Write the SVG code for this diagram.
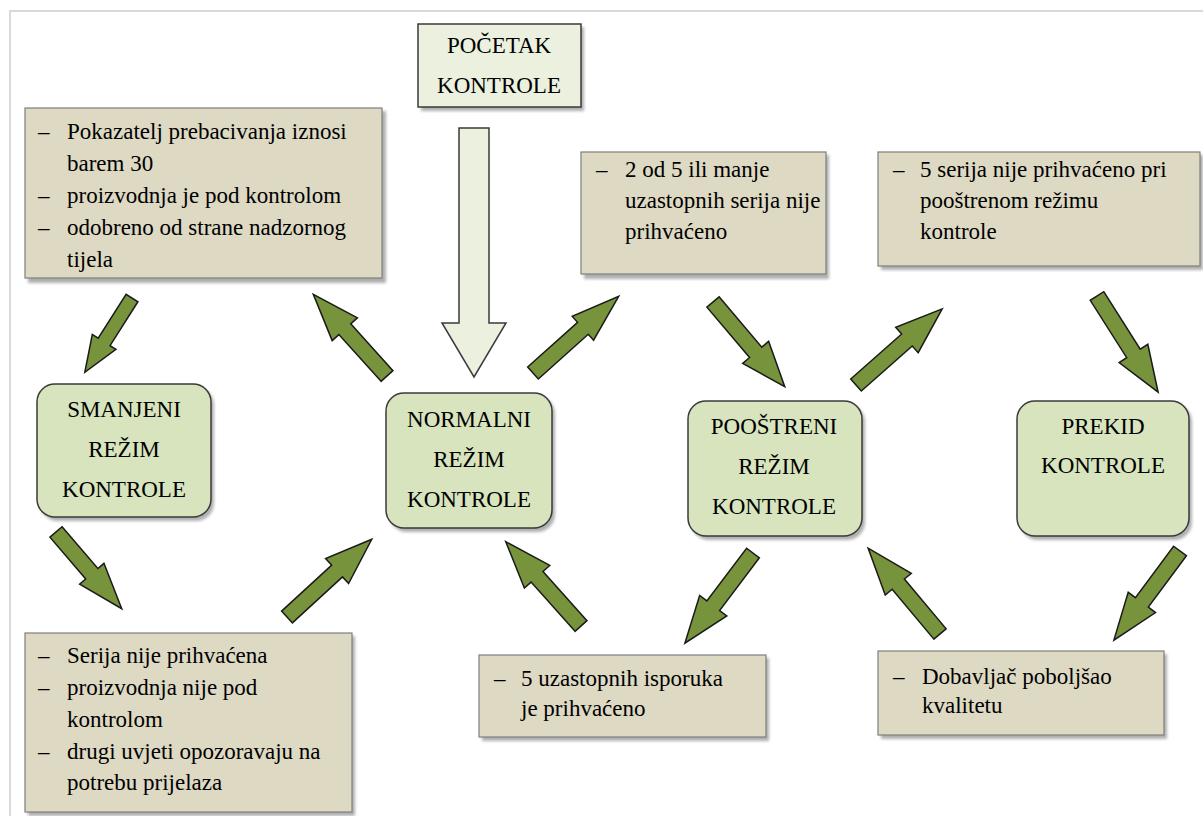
<svg xmlns="http://www.w3.org/2000/svg" width="1203" height="816" viewBox="0 0 1203 816">
<style>
  .t{font-family:"Liberation Serif","Times New Roman","DejaVu Serif",serif;font-size:23px;fill:#000}
  .c{text-anchor:middle}
  .tan{fill:#ddd9c3;stroke:#7f7f7f;stroke-width:1.2}
  .grn{fill:#d7e4bd;stroke:#3a3a3a;stroke-width:1.5}
  .lt{fill:#ebf1de;stroke:#3a3a3a;stroke-width:1.5}
  .sh{fill:#7a7a7a;opacity:0.6;filter:url(#blur)}
  .ar{fill:#77933c;stroke:#1a1a1a;stroke-width:1.5;stroke-linejoin:miter}
</style>
<defs>
  <filter id="blur" x="-10%" y="-10%" width="120%" height="120%"><feGaussianBlur stdDeviation="1.5"/></filter>
</defs>
<rect width="1203" height="816" fill="#fff"/>
<path d="M10,816 V11 H1203" fill="none" stroke="#d9d9d9" stroke-width="2"/>

<g id="pocetak">
  <rect class="sh" x="421" y="27" width="163" height="84"/>
  <rect class="lt" x="418" y="24" width="163" height="83"/>
  <text class="t c" x="499" y="53">POČETAK</text>
  <text class="t c" x="499" y="93">KONTROLE</text>
</g>

<g id="box-a">
  <rect class="sh" x="28" y="111" width="358" height="172"/>
  <rect class="tan" x="25" y="108" width="357" height="170"/>
  <text class="t"><tspan x="38" y="139">–</tspan><tspan x="67" y="139">Pokazatelj prebacivanja iznosi</tspan><tspan x="67" y="171">barem 30</tspan><tspan x="38" y="203">–</tspan><tspan x="67" y="203">proizvodnja je pod kontrolom</tspan><tspan x="38" y="235">–</tspan><tspan x="67" y="235">odobreno od strane nadzornog</tspan><tspan x="67" y="267">tijela</tspan></text>
</g>

<g id="box-b">
  <rect class="sh" x="584" y="155" width="245" height="124"/>
  <rect class="tan" x="581" y="152" width="245" height="122"/>
  <text class="t"><tspan x="596" y="177">–</tspan><tspan x="625" y="177">2 od 5 ili manje</tspan><tspan x="625" y="208">uzastopnih serija nije</tspan><tspan x="625" y="239">prihvaćeno</tspan></text>
</g>

<g id="box-c">
  <rect class="sh" x="881" y="155" width="322" height="115"/>
  <rect class="tan" x="878" y="152" width="322" height="114"/>
  <text class="t"><tspan x="893" y="177">–</tspan><tspan x="920" y="177">5 serija nije prihvaćeno pri</tspan><tspan x="920" y="208">pooštrenom režimu</tspan><tspan x="920" y="239">kontrole</tspan></text>
</g>

<g id="smanjeni">
  <rect class="sh" x="40" y="387" width="174" height="134" rx="18"/>
  <rect class="grn" x="37" y="384" width="174" height="133" rx="18"/>
  <text class="t c" x="124" y="417">SMANJENI</text>
  <text class="t c" x="124" y="457">REŽIM</text>
  <text class="t c" x="124" y="497">KONTROLE</text>
</g>

<g id="normalni">
  <rect class="sh" x="389" y="396" width="166" height="136" rx="18"/>
  <rect class="grn" x="386" y="393" width="166" height="135" rx="18"/>
  <text class="t c" x="469" y="427">NORMALNI</text>
  <text class="t c" x="469" y="467">REŽIM</text>
  <text class="t c" x="469" y="507">KONTROLE</text>
</g>

<g id="poostreni">
  <rect class="sh" x="691" y="404" width="174" height="136" rx="18"/>
  <rect class="grn" x="688" y="401" width="174" height="135" rx="18"/>
  <text class="t c" x="774" y="434">POOŠTRENI</text>
  <text class="t c" x="774" y="474">REŽIM</text>
  <text class="t c" x="774" y="514">KONTROLE</text>
</g>

<g id="prekid">
  <rect class="sh" x="1020" y="404" width="172" height="136" rx="18"/>
  <rect class="grn" x="1017" y="401" width="172" height="135" rx="18"/>
  <text class="t c" x="1103" y="434">PREKID</text>
  <text class="t c" x="1103" y="473">KONTROLE</text>
</g>

<g id="box-d">
  <rect class="sh" x="28" y="636" width="327" height="180"/>
  <rect class="tan" x="25" y="633" width="327" height="179"/>
  <text class="t"><tspan x="38" y="663">–</tspan><tspan x="67" y="663">Serija nije prihvaćena</tspan><tspan x="38" y="695">–</tspan><tspan x="67" y="695">proizvodnja nije pod</tspan><tspan x="67" y="727">kontrolom</tspan><tspan x="38" y="759">–</tspan><tspan x="67" y="759">drugi uvjeti opozoravaju na</tspan><tspan x="67" y="790">potrebu prijelaza</tspan></text>
</g>

<g id="box-e">
  <rect class="sh" x="482" y="658" width="287" height="83"/>
  <rect class="tan" x="479" y="655" width="287" height="82"/>
  <text class="t"><tspan x="494" y="686">–</tspan><tspan x="521" y="686">5 uzastopnih isporuka</tspan><tspan x="521" y="716">je prihvaćeno</tspan></text>
</g>

<g id="box-f">
  <rect class="sh" x="881" y="654" width="286" height="85"/>
  <rect class="tan" x="878" y="651" width="286" height="84"/>
  <text class="t"><tspan x="893" y="684">–</tspan><tspan x="922" y="684">Dobavljač poboljšao</tspan><tspan x="922" y="713">kvalitetu</tspan></text>
</g>

<g id="connectors">
  <path class="lt" d="M459,128 H489 V323 H506 L474,377 L442,323 H459 Z"/>
  <path class="ar" transform="translate(132,298) rotate(122.43)" d="M0,-7 H52 V-14 L88,0 L52,14 V7 H0 Z"/>
  <path class="ar" transform="translate(387,376) rotate(-132.06)" d="M0,-8 H63 V-17 L110,0 L63,17 V8 H0 Z"/>
  <path class="ar" transform="translate(533,373) rotate(-41.84)" d="M0,-8 H67 V-16 L115,0 L67,16 V8 H0 Z"/>
  <path class="ar" transform="translate(713,302) rotate(49.73)" d="M0,-8 H66 V-17 L111,0 L66,17 V8 H0 Z"/>
  <path class="ar" transform="translate(856,385) rotate(-41.47)" d="M0,-8 H68 V-17 L115,0 L68,17 V8 H0 Z"/>
  <path class="ar" transform="translate(1097,296) rotate(57.57)" d="M0,-8 H68 V-17 L114,0 L68,17 V8 H0 Z"/>
  <path class="ar" transform="translate(56,532) rotate(49.4)" d="M0,-8 H55 V-16 L101,0 L55,16 V8 H0 Z"/>
  <path class="ar" transform="translate(287,617) rotate(-42.54)" d="M0,-8 H68 V-17 L115,0 L68,17 V8 H0 Z"/>
  <path class="ar" transform="translate(581,626) rotate(-131.76)" d="M0,-8 H66 V-17 L113,0 L66,17 V8 H0 Z"/>
  <path class="ar" transform="translate(753,553) rotate(127.07)" d="M0,-8 H66 V-17 L113,0 L66,17 V8 H0 Z"/>
  <path class="ar" transform="translate(940,634) rotate(-129.94)" d="M0,-8 H65 V-17 L112,0 L65,17 V8 H0 Z"/>
  <path class="ar" transform="translate(1180,551) rotate(126.56)" d="M0,-8 H64 V-17 L111,0 L64,17 V8 H0 Z"/>
</g>
</svg>
